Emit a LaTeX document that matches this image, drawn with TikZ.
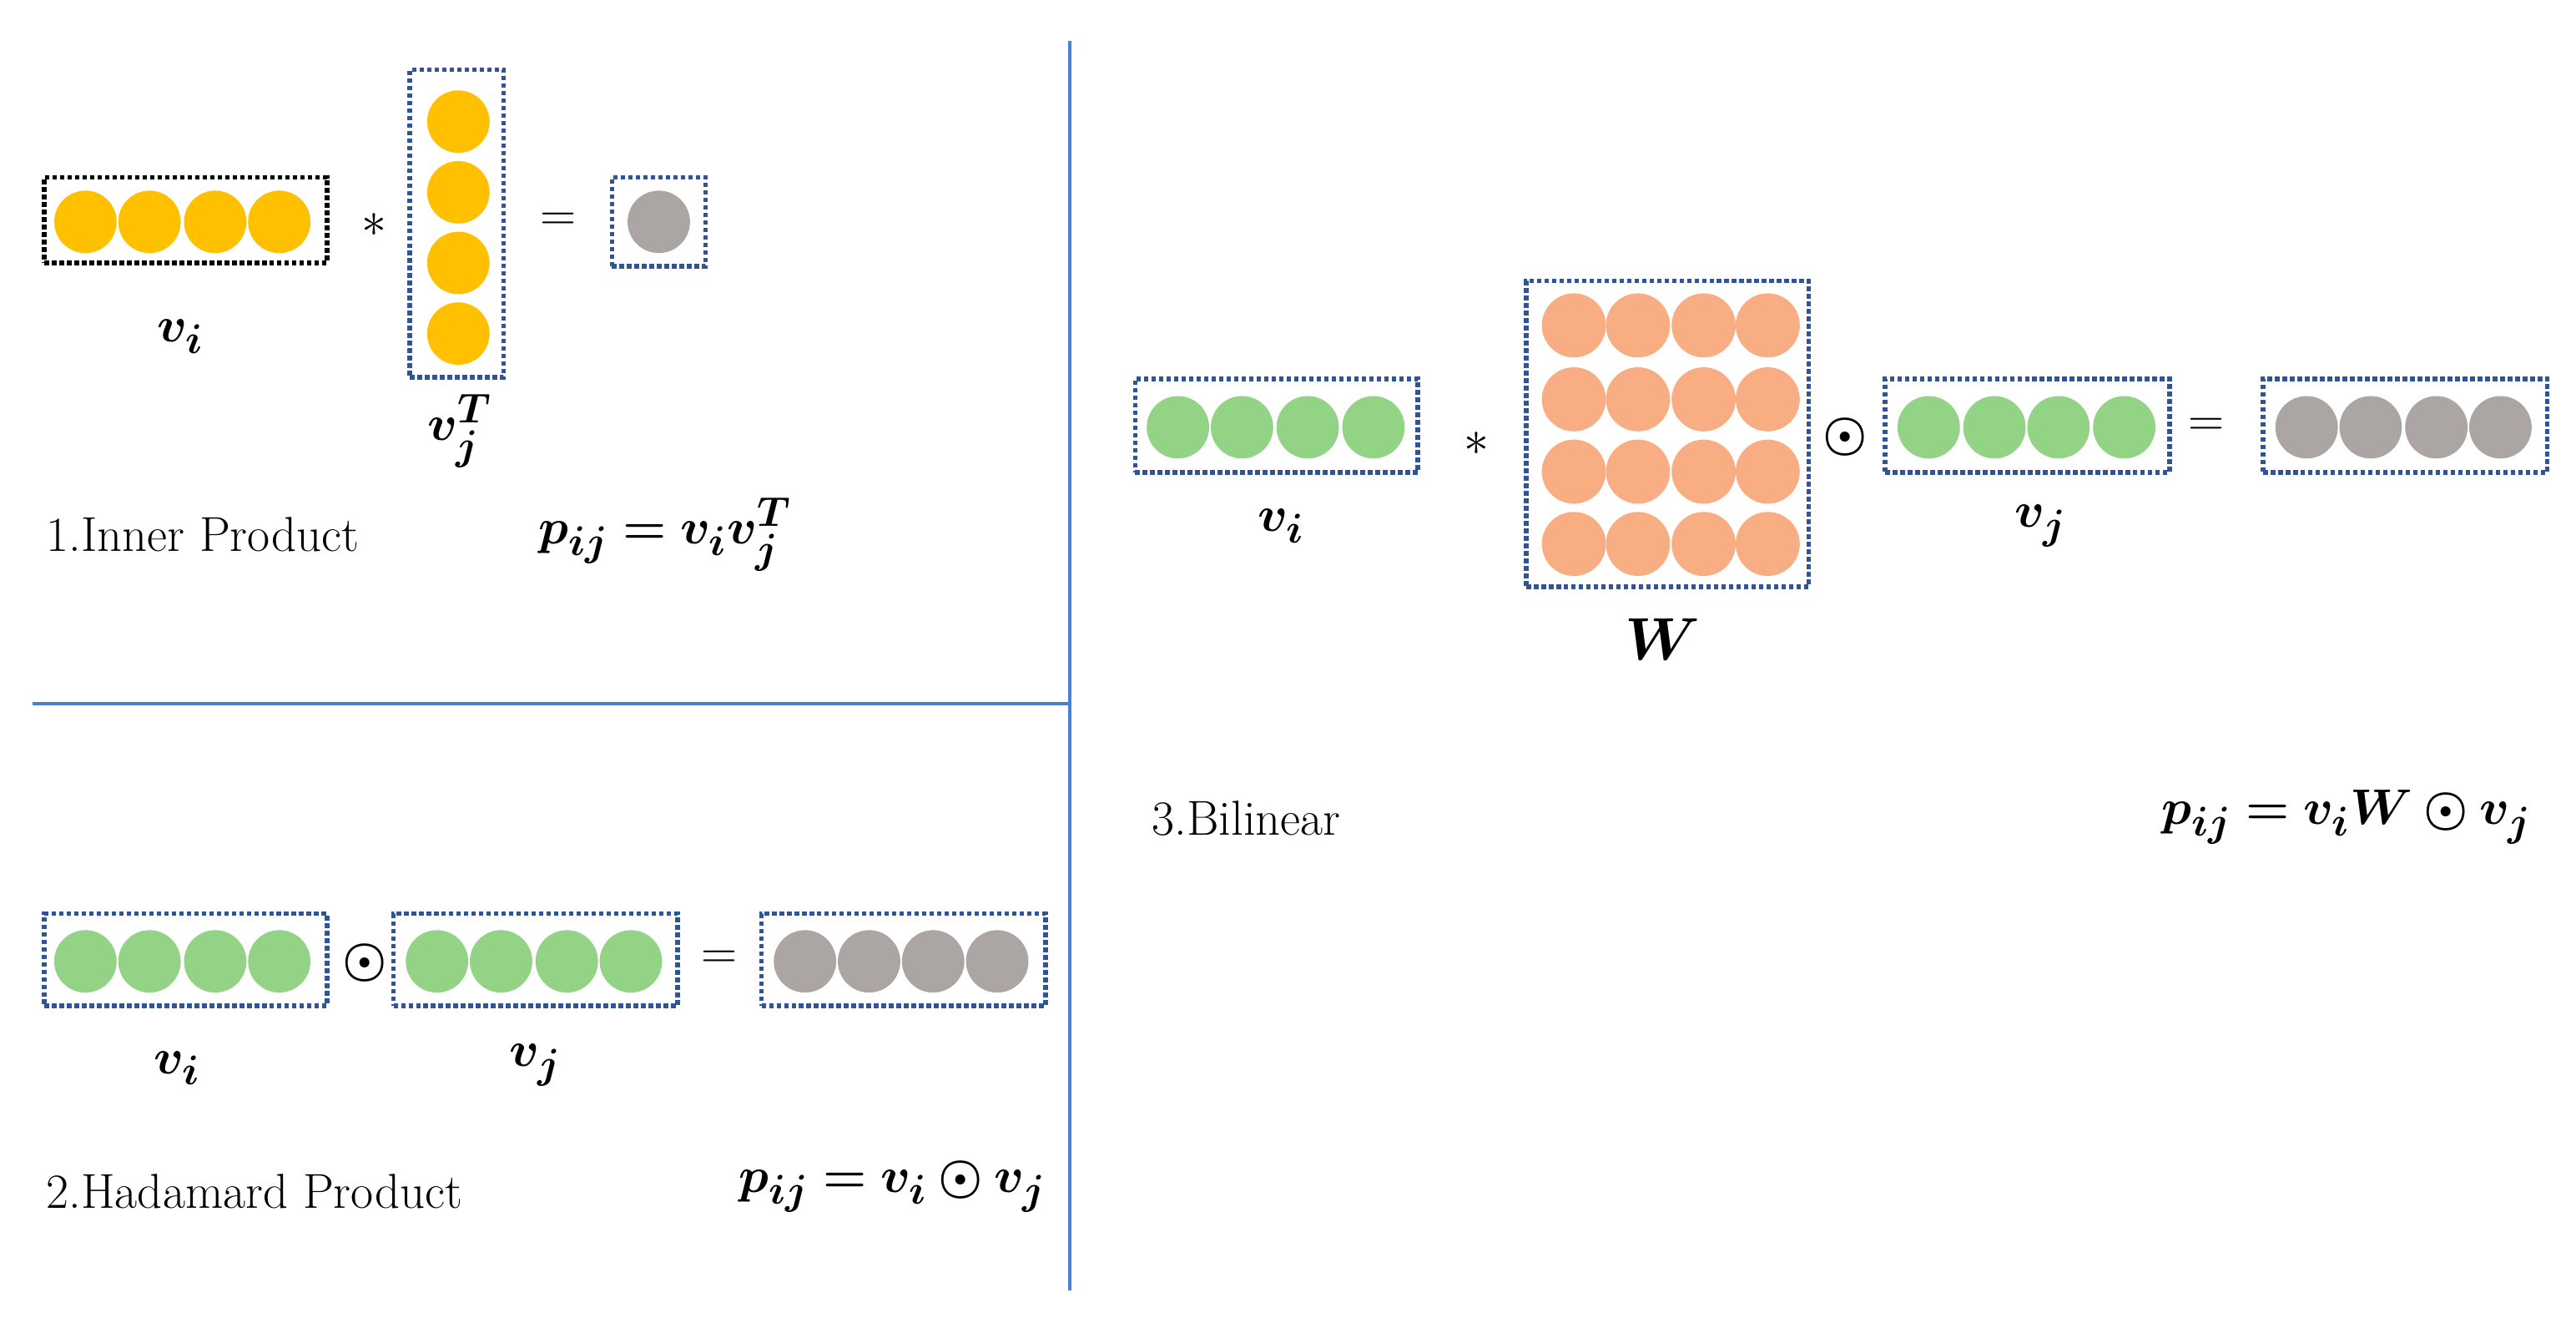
\documentclass[tikz,border=0pt]{standalone}
\usepackage{amsmath,bm}
\begin{document}
\begin{tikzpicture}[x=0.02cm,y=-0.02cm,
  bbox/.style={draw=blue!55!black!80,densely dotted,line width=1.6pt},
  kbox/.style={draw=black,densely dotted,line width=1.6pt},
  yc/.style={circle,fill=yellow!75!orange,minimum size=38*0.02cm,inner sep=0},
  gc/.style={circle,fill=green!45!gray!40!green!45,minimum size=38*0.02cm,inner sep=0},
  rc/.style={circle,fill=gray!60!red!20!gray!70,minimum size=38*0.02cm,inner sep=0},
  oc/.style={circle,fill=orange!60!red!30!white!55!orange,minimum size=39*0.02cm,inner sep=0},
  sep/.style={draw=blue!60!cyan!70!black!70,line width=1.2pt},
  lab/.style={font=\fontsize{17}{20}\selectfont},
  mth/.style={font=\fontsize{19}{22}\selectfont}]
\definecolor{Y}{HTML}{FFC000}\definecolor{G}{HTML}{93D385}\definecolor{R}{HTML}{ABA5A3}\definecolor{O}{HTML}{F8AD82}\definecolor{B}{HTML}{2F5597}\definecolor{L}{HTML}{4A7FD6}
\tikzset{yc/.append style={fill=Y},gc/.append style={fill=G},rc/.append style={fill=R},oc/.append style={fill=O},bbox/.append style={draw=B},sep/.append style={draw=L}}
\useasboundingbox (0,0) rectangle (1568,802);
\coordinate (vt) at (651,25); \coordinate (vb) at (651,785);
\coordinate (hl) at (20,428); \coordinate (hr) at (651,428);
\draw[sep] (vt)--(vb); \draw[sep] (hl)--(hr);
% section 1
\node[kbox,minimum width=172*0.02cm,minimum height=52*0.02cm,inner sep=0] (b1) at (113,134) {};
\foreach \x [count=\i] in {52,91,131,170} \node[yc] (y\i) at (\x,135) {};
\node[mth] (s1) at (228,137) {$*$};
\node[bbox,minimum width=57*0.02cm,minimum height=187*0.02cm,inner sep=0] (b2) at (278,136) {};
\foreach \y [count=\i] in {74,117,160,203} \node[yc] (yy\i) at (279,\y) {};
\node[mth] (e1) at (340,135) {$=$};
\node[bbox,minimum width=57*0.02cm,minimum height=54*0.02cm,inner sep=0] (b3) at (401,135) {};
\node[rc] (r1) at (401,135) {};
\node[mth] (l1) at (110,205) {$\bm{v_i}$};
\node[mth] (l2) at (280,262) {$\bm{v_j^T}$};
\node[lab,anchor=west] (t1) at (22,325) {1.Inner Product};
\node[mth] (f1) at (405,325) {$\bm{p_{ij}=v_iv_j^T}$};
% section 2
\node[bbox,minimum width=172*0.02cm,minimum height=56*0.02cm,inner sep=0] (c1) at (113,584) {};
\foreach \x [count=\i] in {52,91,131,170} \node[gc] (g\i) at (\x,585) {};
\node[mth] (o2) at (222,586) {$\bm{\odot}$};
\node[bbox,minimum width=173*0.02cm,minimum height=56*0.02cm,inner sep=0] (c2) at (326,584) {};
\foreach \x [count=\i] in {266,305,345,384} \node[gc] (h\i) at (\x,585) {};
\node[mth] (e2) at (438,584) {$=$};
\node[bbox,minimum width=173*0.02cm,minimum height=56*0.02cm,inner sep=0] (c3) at (550,584) {};
\foreach \x [count=\i] in {490,529,568,607} \node[rc] (q\i) at (\x,585) {};
\node[mth] (l3) at (108,650) {$\bm{v_i}$};
\node[mth] (l4) at (326,648) {$\bm{v_j}$};
\node[lab,anchor=west] (t2) at (22,725) {2.Hadamard Product};
\node[mth,anchor=east] (f2) at (643,722) {$\bm{p_{ij}=v_i\odot v_j}$};
% section 3
\node[bbox,minimum width=172*0.02cm,minimum height=57*0.02cm,inner sep=0] (d1) at (777,259) {};
\foreach \x [count=\i] in {717,756,796,836} \node[gc] (k\i) at (\x,260) {};
\node[mth] (s3) at (899,270) {$*$};
\node[bbox,minimum width=172*0.02cm,minimum height=186*0.02cm,inner sep=0] (d2) at (1015,264) {};
\foreach \y [count=\j] in {198,243,287,331}
  \foreach \x [count=\i] in {958,997,1037,1076} \node[oc] (w\j\i) at (\x,\y) {};
\node[mth] (o3) at (1123,266) {$\bm{\odot}$};
\node[bbox,minimum width=173*0.02cm,minimum height=57*0.02cm,inner sep=0] (d3) at (1234,259) {};
\foreach \x [count=\i] in {1174,1214,1253,1293} \node[gc] (m\i) at (\x,260) {};
\node[mth] (e3) at (1343,260) {$=$};
\node[bbox,minimum width=173*0.02cm,minimum height=57*0.02cm,inner sep=0] (d4) at (1464,259) {};
\foreach \x [count=\i] in {1404,1443,1483,1522} \node[rc] (n\i) at (\x,260) {};
\node[mth] (l5) at (780,320) {$\bm{v_i}$};
\node[mth,font=\fontsize{22}{24}\selectfont] (l6) at (1012,389) {$\bm{W}$};
\node[mth] (l7) at (1242,320) {$\bm{v_j}$};
\node[lab,anchor=west] (t3) at (695,498) {3.Bilinear};
\node[mth,anchor=east] (f3) at (1547,497) {$\bm{p_{ij}=v_iW\odot v_j}$};
\end{tikzpicture}
\end{document}
